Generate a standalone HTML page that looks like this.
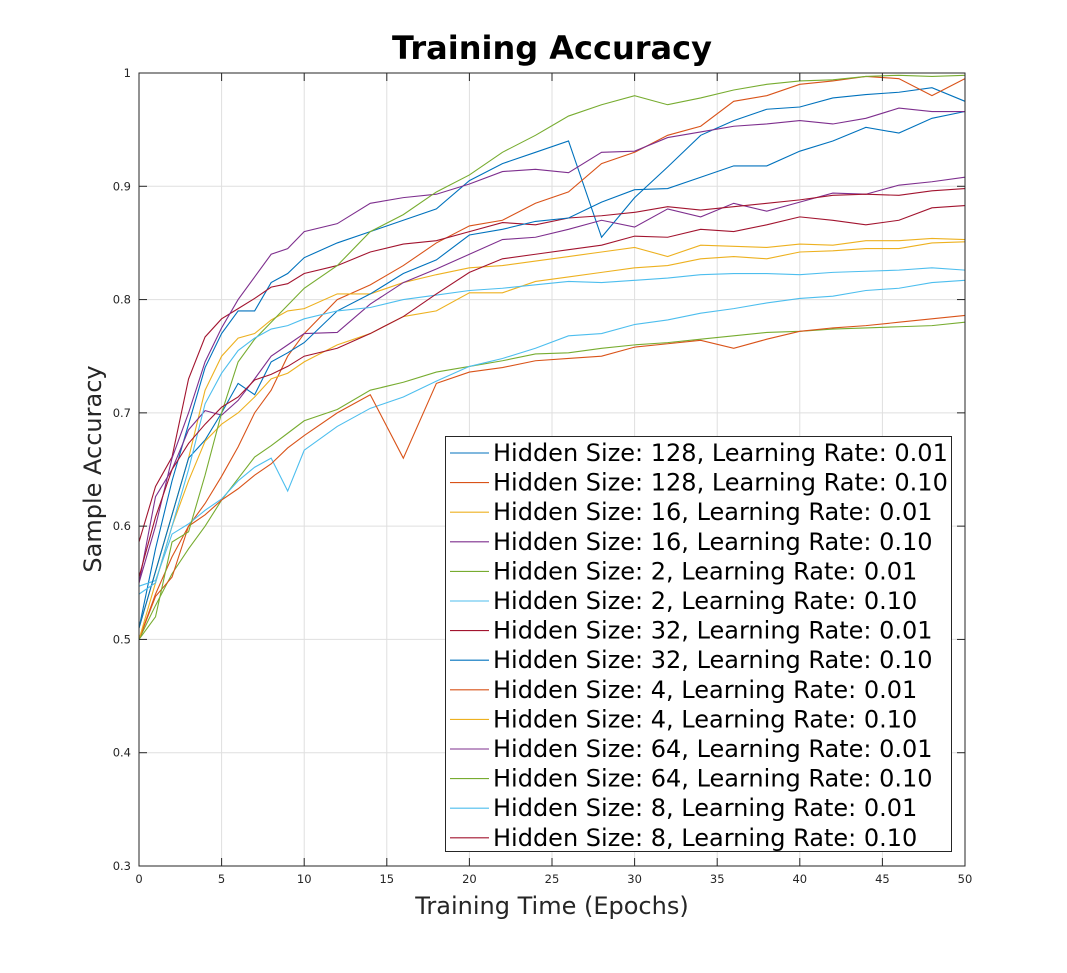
<!DOCTYPE html>
<html><head><meta charset="utf-8"><style>
body{margin:0;background:#fff;}
svg{display:block;font-family:"DejaVu Sans","Liberation Sans",sans-serif;}
</style></head><body>
<svg id="chart" width="1067" height="973" viewBox="0 0 1067 973" xmlns="http://www.w3.org/2000/svg">
<rect x="0" y="0" width="1067" height="973" fill="#ffffff"/>
<text x="552" y="59" text-anchor="middle" font-size="32" font-weight="bold" fill="#000">Training Accuracy</text>
<text transform="translate(101,469) rotate(-90)" text-anchor="middle" font-size="24" fill="#262626">Sample Accuracy</text>
<text x="552" y="914" text-anchor="middle" font-size="24" fill="#262626">Training Time (Epochs)</text>
<g id="grid"></g>
<g id="series"></g>
<g id="axes"></g>
<g id="legend"></g>
</svg>
<script>
const epochs = [0,1,2,3,4,5,6,7,8,9,10,12,14,16,18,20,22,24,26,28,30,32,34,36,38,40,42,44,46,48,50];
const xTicks = [0,5,10,15,20,25,30,35,40,45,50];
const yTicks = [0.3,0.4,0.5,0.6,0.7,0.8,0.9,1];
const yTickLabels = ["0.3","0.4","0.5","0.6","0.7","0.8","0.9","1"];
const seriesNames = [
 "Hidden Size: 128, Learning Rate: 0.01","Hidden Size: 128, Learning Rate: 0.10",
 "Hidden Size: 16, Learning Rate: 0.01","Hidden Size: 16, Learning Rate: 0.10",
 "Hidden Size: 2, Learning Rate: 0.01","Hidden Size: 2, Learning Rate: 0.10",
 "Hidden Size: 32, Learning Rate: 0.01","Hidden Size: 32, Learning Rate: 0.10",
 "Hidden Size: 4, Learning Rate: 0.01","Hidden Size: 4, Learning Rate: 0.10",
 "Hidden Size: 64, Learning Rate: 0.01","Hidden Size: 64, Learning Rate: 0.10",
 "Hidden Size: 8, Learning Rate: 0.01","Hidden Size: 8, Learning Rate: 0.10"];
const colors = ["#0072BD","#D95319","#EDB120","#7E2F8E","#77AC30","#4DBEEE","#A2142F","#0072BD","#D95319","#EDB120","#7E2F8E","#77AC30","#4DBEEE","#A2142F"];
const h128lr001 = [0.51,0.58,0.64,0.69,0.74,0.77,0.79,0.79,0.815,0.823,0.837,0.85,0.86,0.87,0.88,0.905,0.92,0.93,0.94,0.855,0.89,0.917,0.945,0.958,0.968,0.97,0.978,0.981,0.983,0.987,0.975];
const h128lr010 = [0.50,0.54,0.573,0.6,0.62,0.644,0.67,0.7,0.72,0.75,0.77,0.8,0.813,0.83,0.85,0.865,0.87,0.885,0.895,0.92,0.93,0.945,0.953,0.975,0.98,0.99,0.993,0.997,0.995,0.98,0.995];
const h16lr001 = [0.51,0.56,0.61,0.66,0.72,0.75,0.766,0.77,0.782,0.79,0.792,0.805,0.805,0.815,0.822,0.828,0.83,0.834,0.838,0.842,0.846,0.838,0.848,0.847,0.846,0.849,0.848,0.852,0.852,0.854,0.853];
const h16lr010 = [0.55,0.626,0.65,0.685,0.702,0.698,0.711,0.73,0.75,0.76,0.77,0.771,0.796,0.815,0.827,0.84,0.853,0.855,0.862,0.87,0.864,0.88,0.873,0.885,0.878,0.886,0.894,0.893,0.901,0.904,0.908];
const h2lr001 = [0.50,0.53,0.558,0.58,0.6,0.623,0.642,0.661,0.671,0.682,0.693,0.703,0.72,0.727,0.736,0.741,0.746,0.752,0.753,0.757,0.76,0.762,0.765,0.768,0.771,0.772,0.774,0.775,0.776,0.777,0.78];
const h2lr010 = [0.547,0.552,0.593,0.602,0.614,0.624,0.64,0.652,0.66,0.631,0.667,0.688,0.704,0.714,0.728,0.741,0.748,0.757,0.768,0.77,0.778,0.782,0.788,0.792,0.797,0.801,0.803,0.808,0.81,0.815,0.817];
const h32lr001 = [0.586,0.635,0.661,0.73,0.767,0.783,0.792,0.801,0.811,0.814,0.823,0.83,0.842,0.849,0.852,0.86,0.868,0.866,0.872,0.874,0.877,0.882,0.879,0.882,0.885,0.888,0.892,0.893,0.892,0.896,0.898];
const h32lr010 = [0.51,0.56,0.61,0.66,0.676,0.7,0.726,0.716,0.745,0.753,0.762,0.79,0.805,0.823,0.835,0.857,0.862,0.869,0.872,0.886,0.897,0.898,0.908,0.918,0.918,0.931,0.94,0.952,0.947,0.96,0.966];
const h4lr001 = [0.50,0.538,0.555,0.6,0.61,0.623,0.633,0.645,0.655,0.669,0.68,0.7,0.716,0.66,0.726,0.736,0.74,0.746,0.748,0.75,0.758,0.761,0.764,0.757,0.765,0.772,0.775,0.777,0.78,0.783,0.786];
const h4lr010 = [0.50,0.55,0.6,0.64,0.675,0.69,0.70,0.714,0.73,0.735,0.745,0.76,0.77,0.785,0.79,0.806,0.806,0.816,0.82,0.824,0.828,0.83,0.836,0.838,0.836,0.842,0.843,0.845,0.845,0.85,0.851];
const h64lr001 = [0.55,0.6,0.66,0.7,0.745,0.775,0.8,0.82,0.84,0.845,0.86,0.867,0.885,0.89,0.893,0.902,0.913,0.915,0.912,0.93,0.931,0.943,0.948,0.953,0.955,0.958,0.955,0.96,0.969,0.966,0.966];
const h64lr010 = [0.50,0.52,0.586,0.595,0.645,0.7,0.745,0.765,0.78,0.795,0.81,0.83,0.86,0.875,0.895,0.91,0.93,0.945,0.962,0.972,0.98,0.972,0.978,0.985,0.99,0.993,0.994,0.997,0.998,0.997,0.998];
const h8lr001 = [0.54,0.55,0.6,0.65,0.708,0.735,0.755,0.766,0.774,0.777,0.783,0.79,0.793,0.8,0.804,0.808,0.81,0.813,0.816,0.815,0.817,0.819,0.822,0.823,0.823,0.822,0.824,0.825,0.826,0.828,0.826];
const h8lr010 = [0.555,0.608,0.65,0.673,0.69,0.705,0.714,0.729,0.734,0.741,0.75,0.757,0.77,0.785,0.805,0.824,0.836,0.84,0.844,0.848,0.856,0.855,0.862,0.86,0.866,0.873,0.87,0.866,0.87,0.881,0.883];
const seriesValues = [h128lr001,h128lr010,h16lr001,h16lr010,h2lr001,h2lr010,h32lr001,h32lr010,h4lr001,h4lr010,h64lr001,h64lr010,h8lr001,h8lr010];

const NS="http://www.w3.org/2000/svg";
const L=139,R=965,T=73,B=866;
const xScale=v=>L+(v-0)/(50-0)*(R-L);
const yScale=v=>B-(v-0.3)/(1-0.3)*(B-T);
function mk(tag,attrs,parent){const e=document.createElementNS(NS,tag);for(const k in attrs)e.setAttribute(k,attrs[k]);parent.appendChild(e);return e;}
const grid=document.getElementById('grid'),axes=document.getElementById('axes'),ser=document.getElementById('series'),leg=document.getElementById('legend');
mk('rect',{x:L,y:T,width:R-L,height:B-T,fill:'#fff'},grid);
xTicks.forEach((t,i)=>{
  const x=xScale(t);
  const g=mk('line',{x1:x,x2:x,y1:T,y2:B,stroke:'#dfdfdf','stroke-width':1},grid);
  
  
  mk('line',{x1:x,x2:x,y1:B,y2:B-8,stroke:'#262626','stroke-width':1},axes);
  mk('line',{x1:x,x2:x,y1:T,y2:T+8,stroke:'#262626','stroke-width':1},axes);
  const tx=mk('text',{x:x,y:B+17,'text-anchor':'middle','font-size':11.5,fill:'#262626'},axes);
  tx.textContent=String(t);
  
  
});
yTicks.forEach((t,i)=>{
  const y=yScale(t);
  const g=mk('line',{x1:L,x2:R,y1:y,y2:y,stroke:'#dfdfdf','stroke-width':1},grid);
  
  
  mk('line',{x1:L,x2:L+8,y1:y,y2:y,stroke:'#262626','stroke-width':1},axes);
  mk('line',{x1:R,x2:R-8,y1:y,y2:y,stroke:'#262626','stroke-width':1},axes);
  const tx=mk('text',{x:L-8,y:y+4,'text-anchor':'end','font-size':11.5,fill:'#262626'},axes);
  tx.textContent=yTickLabels[i];
  
  
});
const box=mk('rect',{x:L,y:T,width:R-L,height:B-T,fill:'none',stroke:'#262626','stroke-width':1},axes);


seriesValues.forEach((vals,i)=>{
  const d=vals.map((v,j)=>(j?'L':'M')+xScale(epochs[j]).toFixed(2)+','+yScale(v).toFixed(2)).join(' ');
  const p=mk('path',{d:d,fill:'none',stroke:colors[i],'stroke-width':1.1},ser);
  
  
});
const lb=mk('rect',{x:445.5,y:436.5,width:506,height:415,fill:'#fff',stroke:'#262626','stroke-width':1},leg);


seriesNames.forEach((n,i)=>{
  const y=453+i*29.6;
  const ln=mk('line',{x1:450,x2:489,y1:y,y2:y,stroke:colors[i],'stroke-width':1.1},leg);
  
  
  const tx=mk('text',{x:493,y:y+8,'font-size':24,fill:'#000'},leg);
  tx.textContent=n;
  
  
});
</script>
</body></html>
